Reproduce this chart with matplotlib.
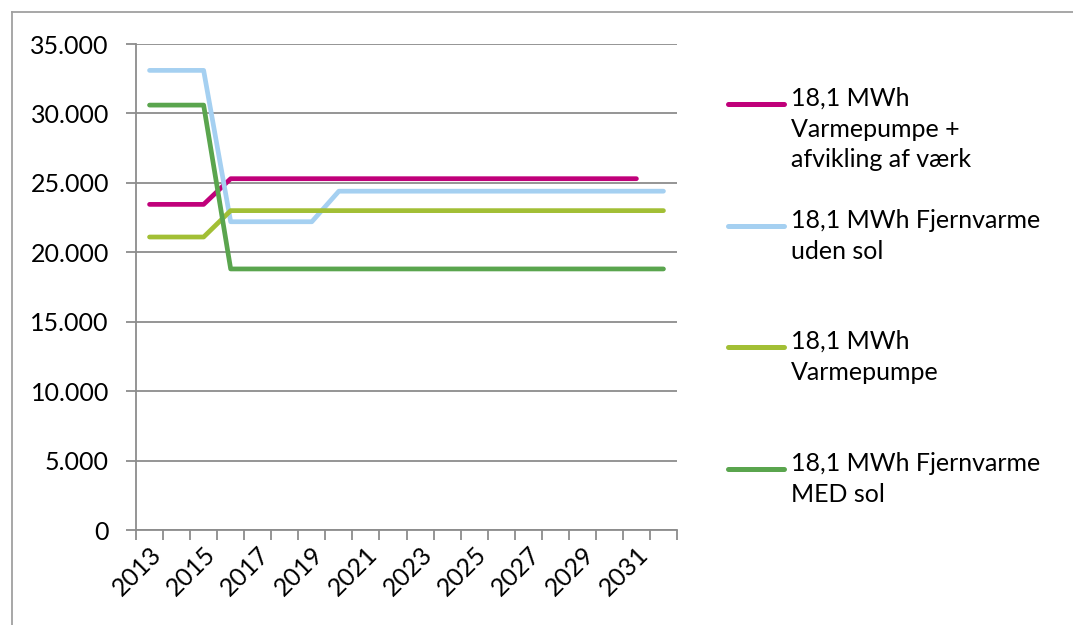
import matplotlib.pyplot as plt
from matplotlib.lines import Line2D
import numpy as np

plt.rcParams['font.family'] = ['Lato', 'DejaVu Sans']

# years on the category axis
years = list(range(2013, 2033))

# yearly cost per scenario
vp_afvikling = [23450, 23450, 23450] + [25300] * 16 + [np.nan]
fv_uden_sol = [33100, 33100, 33100, 22200, 22200, 22200, 22200] + [24400] * 13
vp = [21100, 21100, 21100] + [23000] * 17
fv_med_sol = [30600, 30600, 30600] + [18800] * 17

labels = ['18,1 MWh\nVarmepumpe +\nafvikling af værk',
          '18,1 MWh Fjernvarme\nuden sol',
          '18,1 MWh\nVarmepumpe',
          '18,1 MWh Fjernvarme\nMED sol']
colors = ['#C0007A', '#A5D0F1', '#A2BF35', '#5AA54E']
series = [vp_afvikling, fv_uden_sol, vp, fv_med_sol]

W, H = 1073, 625
fig = plt.figure(figsize=(W / 100, H / 100), dpi=100)
ax = fig.add_axes([136 / W, 1 - 530 / H, 541 / W, 486 / H])

x = np.arange(len(years))
for s, c in zip(series, colors):
    ax.plot(x, s, color=c, lw=3.4, solid_capstyle='round', solid_joinstyle='round', zorder=3)

grey = '#8C8C8C'
ax.set_xlim(-0.5, len(years) - 0.5)
ax.set_ylim(0, 35000)
ax.set_yticks(np.arange(0, 35001, 5000))
ax.set_yticklabels(['0'] + [f'{v // 1000}.000' for v in range(5000, 35001, 5000)])
ax.yaxis.grid(True, color=grey, lw=1.3)
ax.set_axisbelow(True)

# boundary ticks between years, labels on every other year
ax.set_xticks(np.arange(-0.5, len(years)), minor=False)
ax.set_xticklabels([])
ax.set_xticks(x[::2], minor=True)
ax.set_xticklabels([str(y) for y in years[::2]], minor=True, rotation=45,
                   ha='right', va='top', rotation_mode='anchor')
ax.tick_params(axis='x', which='minor', length=0, pad=9, labelsize=18)
ax.tick_params(axis='x', which='major', length=7, width=1.3, color=grey)
ax.tick_params(axis='y', length=7.5, width=1.3, color=grey, labelsize=18, pad=12)

for side in ['top', 'right']:
    ax.spines[side].set_visible(False)
for side in ['left', 'bottom']:
    ax.spines[side].set_color(grey)
    ax.spines[side].set_linewidth(1.3)

# legend entries, line aligned with first text row
leg_y = [104, 226, 347, 469]
for lab, c, yy in zip(labels, colors, leg_y):
    fy = 1 - yy / H
    fig.add_artist(Line2D([728 / W, 784 / W], [fy, fy], color=c, lw=3.6,
                          solid_capstyle='round'))
    fig.text(791 / W, 1 - (yy - 17) / H, lab, fontsize=18, va='top', ha='left',
             linespacing=1.4, transform=fig.transFigure)

# chart frame
fig.add_artist(Line2D([12 / W, 12 / W], [0, 1 - 12 / H], color='#A0A0A0', lw=1.3))
fig.add_artist(Line2D([12 / W, 1], [1 - 12 / H, 1 - 12 / H], color='#A0A0A0', lw=1.3))

fig.savefig('out.png', dpi=100)
